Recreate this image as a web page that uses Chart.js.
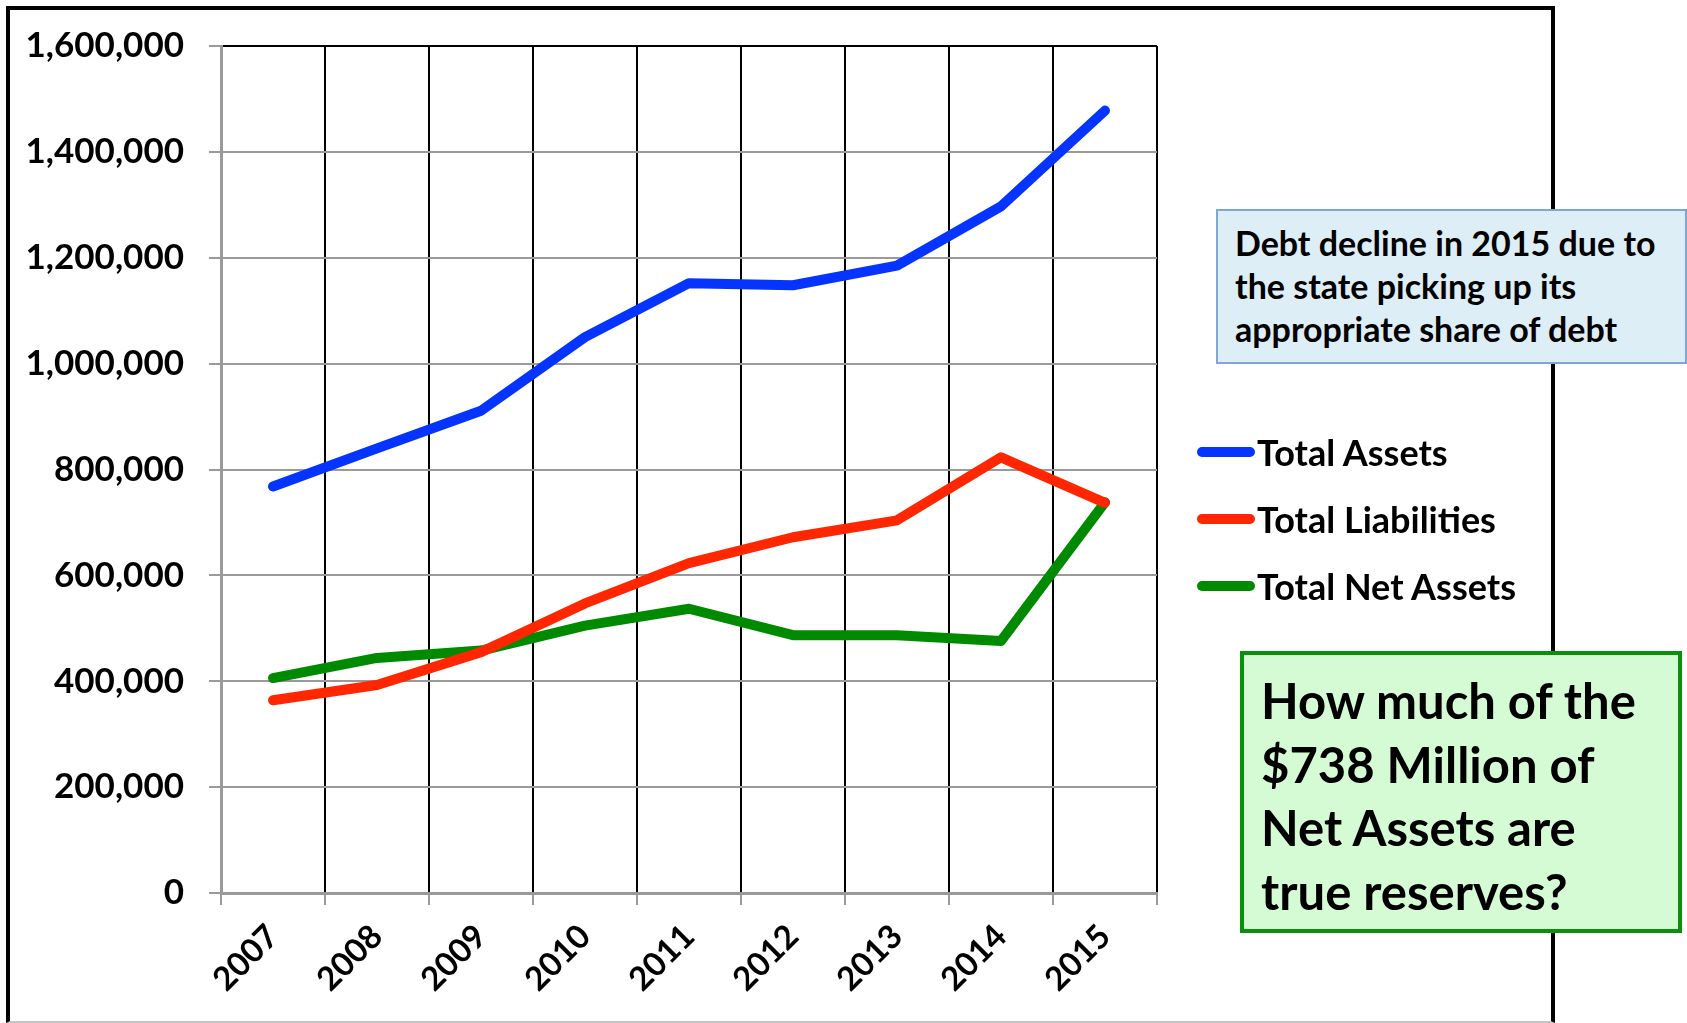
<!DOCTYPE html>
<html>
<head>
<meta charset="utf-8">
<script src="https://cdn.jsdelivr.net/npm/chart.js@4.4.1/dist/chart.umd.min.js"></script>
<style>
  body { margin: 0; background: #fff; }
  #wrap { position: relative; width: 1687px; height: 1023px; overflow: hidden; font-family: Lato, 'Open Sans', sans-serif; font-weight: bold; color: #000; }
  #frame { position: absolute; left: 6px; top: 6px; width: 1541px; height: 1011px; border: 4px solid #000; border-bottom: 2px solid #c4c4c4; }
  #chart { position: absolute; left: 0; top: 0; }
  .legend-row { position: absolute; left: 1197px; height: 40px; display: flex; align-items: center; font-size: 36px; white-space: nowrap; }
  .legend-row .swatch { width: 58px; height: 10px; border-radius: 5px; margin-right: 2px; flex: none; }
  .note { position: absolute; box-sizing: border-box; white-space: nowrap; }
  #debtNote { left: 1216px; top: 209px; width: 471px; height: 155px; background: #deeef7; border: 2px solid #7ea7d8; font-size: 34px; line-height: 43px; padding: 10px 0 0 17px; }
  #reserveNote { left: 1240px; top: 651px; width: 442px; height: 282px; background: #d5fbd5; border: 4px solid #0c8f0c; font-size: 49px; line-height: 63.5px; padding: 14px 0 0 17px; }
</style>
</head>
<body>
<div id="wrap">
  <div id="frame"></div>
  <canvas id="chart" width="1687" height="1023"></canvas>
  <div id="legend"></div>
  <div class="note" id="debtNote">Debt decline in 2015 due to<br>the state picking up its<br>appropriate share of debt</div>
  <div class="note" id="reserveNote">How much of the<br>$738 Million of<br>Net Assets are<br>true reserves?</div>
</div>
<script>
// values (thousands of dollars)
const years = ['2007', '2008', '2009', '2010', '2011', '2012', '2013', '2014', '2015'];
const totalAssets = [768000, 840000, 911000, 1050000, 1152000, 1148000, 1185000, 1297000, 1478000];
const totalLiabilities = [364000, 393000, 455000, 547000, 623000, 672000, 704000, 823000, 737000];
const totalNetAssets = [406000, 444000, 458000, 505000, 537000, 487000, 487000, 476000, 738000];

const seriesNames = ['Total Assets', 'Total Liabilities', 'Total Net Assets'];
const seriesColors = ['#0533ff', '#ff2600', '#008a00'];

const yMin = 0;
const yMax = 1600000;
const yStep = 200000;

const fontFamily = "Lato, 'Open Sans', sans-serif";

const seriesData = [totalAssets, totalLiabilities, totalNetAssets];
const datasets = seriesNames.map((name, i) => ({
    label: name,
    data: seriesData[i],
    borderColor: seriesColors[i],
    backgroundColor: seriesColors[i],
    borderWidth: 10,
    pointRadius: 0,
    pointHoverRadius: 0,
    tension: 0,
    borderCapStyle: 'round',
    borderJoinStyle: 'round',
    fill: false
}));

const chart = new Chart(document.getElementById('chart'), {
    type: 'line',
    data: { labels: years, datasets: datasets },
    options: {
        responsive: false,
        animation: false,
        layout: { padding: { left: 0, top: 45, right: 530, bottom: 0 } },
        plugins: {
            legend: { display: false },
            tooltip: { enabled: false }
        },
        scales: {
            x: {
                offset: true,
                afterFit: (scale) => { scale.height = 130; },
                grid: {
                    offset: true,
                    lineWidth: 2,
                    color: (ctx) => ctx.index === 0 ? '#9a9a9a' : '#000',
                    tickColor: '#9a9a9a',
                    tickLength: 12
                },
                border: { color: '#9a9a9a', width: 3 },
                ticks: {
                    color: '#000',
                    minRotation: 45,
                    maxRotation: 45,
                    padding: 12,
                    font: { family: fontFamily, size: 33, weight: 'bold' }
                }
            },
            y: {
                min: yMin,
                max: yMax,
                afterFit: (scale) => { scale.width = 221; },
                grid: {
                    lineWidth: 2,
                    color: (ctx) => ctx.tick && ctx.tick.value === yMax ? '#000' : '#9a9a9a',
                    tickColor: '#9a9a9a',
                    tickLength: 12
                },
                border: { color: '#9a9a9a', width: 3 },
                ticks: {
                    stepSize: yStep,
                    color: '#000',
                    padding: 25,
                    font: { family: fontFamily, size: 35, weight: 'bold' },
                    callback: (v) => Number(v).toLocaleString('en-US')
                }
            }
        }
    }
});

// legend, built from the datasets
const legendTops = [432, 499, 566];
const legend = document.getElementById('legend');
chart.data.datasets.forEach((ds, i) => {
    const row = document.createElement('div');
    row.className = 'legend-row';
    row.style.top = legendTops[i] + 'px';
    row.innerHTML = `<span class="swatch" style="background:${ds.borderColor}"></span><span>${ds.label}</span>`;
    legend.appendChild(row);
});
</script>
</body>
</html>
